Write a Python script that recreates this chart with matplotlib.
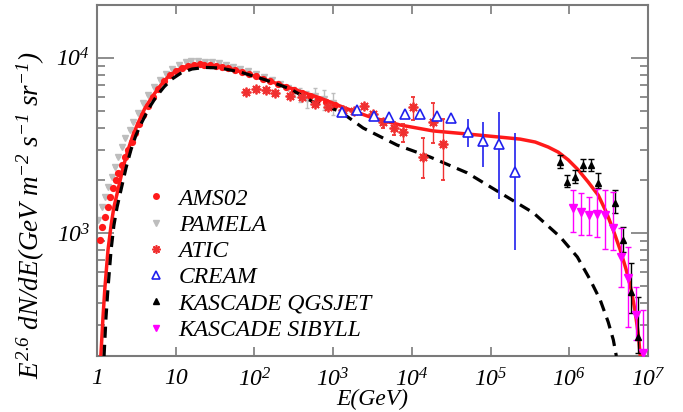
import numpy as np
import matplotlib
matplotlib.use("Agg")
import matplotlib.pyplot as plt
from matplotlib.lines import Line2D
from matplotlib.ticker import FixedLocator, FuncFormatter, NullFormatter

plt.rcParams['font.family'] = ['Liberation Serif', 'DejaVu Serif']
plt.rcParams['font.style'] = 'italic'
plt.rcParams['mathtext.fontset'] = 'custom'
plt.rcParams['mathtext.rm'] = 'Liberation Serif:italic'
plt.rcParams['mathtext.it'] = 'Liberation Serif:italic'

# ---- data ----
ams_E = [1.09, 1.16, 1.26, 1.38, 1.46, 1.60, 1.74, 1.85, 2.08, 2.27, 2.48, 2.78, 3.04, 3.42,
         3.84, 4.45, 5.15, 5.96, 7.10, 8.47, 10.1, 12.0, 14.3, 17.1, 20.4, 22.9,
         27.3, 32.5, 38.7, 46.2, 56.6, 69.5, 85.3, 105, 128, 158, 200, 252, 318, 403, 508,
         643, 813, 1060]
ams_F = [916, 1090, 1240, 1410, 1610, 1810, 2010, 2210, 2450, 2720, 2990, 3310, 3730, 4200,
         4720, 5310, 5980, 6640, 7380, 7980, 8410, 8750, 8980, 9100, 9160, 9100,
         9040, 8980, 8870, 8750, 8520, 8300, 8090, 7870, 7570, 7380, 7090, 6820, 6560, 6300,
         6060, 5820, 5600, 5380]

pam_E = [1.03, 1.16, 1.26, 1.38, 1.55, 1.69, 1.85, 2.08, 2.27, 2.63, 2.87, 3.32, 3.84, 4.45,
         5.30, 6.32, 7.53, 8.98, 11.0, 13.5, 15.6, 19.2, 23.6, 28.9, 35.5, 43.5, 53.5,
         65.6, 82.9, 105, 132, 167, 211, 267, 318, 380, 466, 589, 766, 997]
pam_F = [1190, 1410, 1610, 1840, 2090, 2390, 2720, 3100, 3490, 3880, 4310, 4840, 5520, 6140,
         6820, 7470, 8090, 8630, 9100, 9460, 9530, 9530, 9470, 9400, 9280, 9100, 8870,
         8630, 8410, 8090, 7780, 7470, 7090, 6730, 6380, 6140, 5820, 6060, 5820, 5520]
pam_err = [0] * 34 + [400, 550, 650, 700, 750, 800]

atic_E = [78, 105, 140, 183, 284, 403, 589, 861, 1340, 1850, 2470, 3210, 4310, 5940, 7730,
          10300, 13900, 18600, 24900]
atic_F = [6380, 6680, 6560, 6300, 6060, 5980, 5450, 5240, 5040, 4980, 5310, 4780, 4310, 3980,
          3780, 5240, 2720, 4310, 3230]
atic_lo = [6380, 6680, 6560, 6300, 6060, 5980, 5450, 5240, 5040, 4980, 5310, 4780, 3980, 3630,
           3310, 4420, 2070, 3270, 2010]
atic_hi = [6380, 6680, 6560, 6300, 6060, 5980, 5450, 5240, 5040, 4980, 5310, 4780, 4480, 4310,
           4200, 5980, 3490, 5520, 4480]

cream_E = [1300, 2010, 3310, 5130, 8200, 12700, 20900, 31500, 51800, 80300, 128000, 205000]
cream_F = [4910, 5040, 4660, 4600, 4780, 4780, 4660, 4540, 3780, 3360, 3230, 2230]
cream_lo = [4910, 5040, 4660, 4600, 4780, 4780, 4660, 4540, 3100, 2390, 1570, 803]
cream_hi = [4910, 5040, 4660, 4600, 4780, 4780, 4660, 4540, 4480, 4310, 4910, 3730]

qgs_E = [7.64e5, 9.38e5, 1.19e6, 1.50e6, 1.89e6, 2.32e6, 3.82e6, 4.83e6, 6.10e6, 7.48e6]
qgs_F = [2550, 1960, 2090, 2450, 2450, 1940, 1490, 916, 463, 257]
qgs_lo = [2360, 1840, 1940, 2260, 2260, 1810, 1310, 782, 352, 208]
qgs_hi = [2790, 2150, 2300, 2650, 2650, 2210, 1770, 1090, 678, 434]

sib_E = [1.12e6, 1.41e6, 1.79e6, 2.26e6, 2.85e6, 3.61e6, 4.55e6, 5.58e6, 7.06e6, 8.67e6]
sib_F = [1390, 1320, 1270, 1290, 1270, 1070, 733, 556, 342, 208]
sib_lo = [1020, 977, 977, 953, 815, 803, 494, 292, 247, 190]
sib_hi = [1770, 1700, 1610, 1790, 1770, 1720, 1070, 835, 494, 366]

# model curves
fit_E = [1.12, 1.19, 1.26, 1.38, 1.51, 1.64, 1.85, 2.14, 2.48, 2.87, 3.32, 4.07, 5.00, 6.32,
         7.98, 10.1, 13.1, 17.6, 25.0, 36.6, 56.6, 108, 283, 682, 1420, 2940, 7080, 18600,
         50300, 132000, 237000, 368000, 538000, 721000, 966000, 1.29e6, 1.73e6, 2.32e6,
         2.94e6, 3.61e6, 4.42e6, 5.27e6, 6.10e6, 6.85e6, 7.48e6, 7.94e6]
fit_F = [200, 329, 488, 803, 1110, 1410, 1770, 2360, 2990, 3630, 4250, 5170, 5980, 6900,
         7780, 8410, 8870, 9100, 9040, 8920, 8520, 7780, 6730, 5900, 5170, 4600, 4140, 3830,
         3680, 3530, 3440, 3310, 3100, 2900, 2620, 2300, 1960, 1650,
         1320, 1040, 803, 618, 475, 356, 267, 200]

bkg_E = [1.23, 1.30, 1.38, 1.51, 1.64, 1.80, 2.02, 2.34, 2.70, 3.13, 3.73, 4.58, 5.62, 7.10,
         8.98, 11.7, 16.1, 23.6, 36.6, 65.6, 136, 283, 556, 1220, 2400, 6490, 17000, 50300,
         132000, 347000, 764000, 1.26e6, 1.84e6, 2.46e6, 3.11e6, 3.61e6, 3.94e6]
bkg_F = [200, 329, 488, 803, 1110, 1410, 1770, 2360, 2990, 3630, 4310, 5170, 5980, 6820,
         7570, 8190, 8630, 8810, 8750, 8300, 7500, 6650, 5600, 4950, 3980, 3180, 2720, 2210,
         1700, 1310, 953, 733, 542, 417, 312, 247, 200]

xticks = [1, 10, 1e2, 1e3, 1e4, 1e5, 1e6, 1e7]
yticks = [1e3, 1e4]


def err(f, lo, hi):
    f, lo, hi = np.array(f), np.array(lo), np.array(hi)
    return [f - lo, hi - f]


fig = plt.figure(figsize=(6.83, 4.12), dpi=100)
ax = fig.add_axes([0.142, 0.136, 0.807, 0.852])

red = '#ff1a1a'
ax.errorbar(pam_E, pam_F, yerr=pam_err, fmt='v', color='#bdbdbd', ms=5, mec='#bdbdbd',
            elinewidth=1.0, capsize=1.5, zorder=2)
ax.plot(ams_E, ams_F, 'o', color=red, ms=5.2, mec='none', zorder=3)
ax.plot(fit_E, fit_F, '-', color=red, lw=2.5, zorder=4)
ax.plot(bkg_E, bkg_F, '--', color='black', lw=2.3, dashes=(3.5, 2.2), zorder=5)
ax.errorbar(atic_E, atic_F, yerr=err(atic_F, atic_lo, atic_hi), fmt='', marker=(8, 2, 0),
            ls='none', color='#f03030', ms=7, mew=1.3, elinewidth=1.0, capsize=1.5, zorder=6)
ax.errorbar(cream_E, cream_F, yerr=err(cream_F, cream_lo, cream_hi), fmt='^', color='#2020ee',
            mfc='white', ms=7, mew=1.2, elinewidth=1.2, capsize=0, zorder=6)
ax.errorbar(qgs_E, qgs_F, yerr=err(qgs_F, qgs_lo, qgs_hi), fmt='^', color='black', ms=5,
            elinewidth=1.0, capsize=2, zorder=6)
ax.errorbar(sib_E, sib_F, yerr=err(sib_F, sib_lo, sib_hi), fmt='v', color='#ff00ff', ms=6,
            elinewidth=1.0, capsize=2, zorder=6)

ax.set_xscale('log')
ax.set_yscale('log')
ax.set_xlim(1, 1e7)
ax.set_ylim(200, 2e4)


def xfmt(v, pos):
    n = int(round(np.log10(v)))
    if n == 0:
        return '1'
    if n == 1:
        return '10'
    return r'$10^{%d}$' % n


ax.xaxis.set_major_locator(FixedLocator(xticks))
ax.xaxis.set_major_formatter(FuncFormatter(xfmt))
ax.yaxis.set_major_locator(FixedLocator(yticks))
ax.yaxis.set_major_formatter(FuncFormatter(lambda v, p: r'$10^{%d}$' % round(np.log10(v))))
ax.xaxis.set_minor_formatter(NullFormatter())
ax.yaxis.set_minor_formatter(NullFormatter())

gray = '#7a7a7a'
for s in ax.spines.values():
    s.set_color(gray)
    s.set_linewidth(1.5)
ax.tick_params(which='both', direction='in', top=True, right=True, color=gray, width=1.2,
               labelsize=17)
ax.tick_params(axis='x', which='major', length=6.5, pad=9)
ax.tick_params(axis='x', which='minor', length=3.3)
ax.tick_params(axis='y', which='major', length=12, pad=5)
ax.tick_params(axis='y', which='minor', length=6)

ax.set_xlabel('E(GeV)', fontsize=17, labelpad=-2)
ax.set_ylabel(r'$E^{2.6}$ dN/dE(GeV m$^{-2}$ s$^{-1}$ sr$^{-1}$)', fontsize=19.5)
ax.yaxis.set_label_coords(-0.09, 0.40)

handles = [
    Line2D([], [], ls='none', marker='o', color=red, mec='none', ms=5),
    Line2D([], [], ls='none', marker='v', color='#bdbdbd', ms=5),
    Line2D([], [], ls='none', marker=(8, 2, 0), color='#f03030', ms=6, mew=1.2),
    Line2D([], [], ls='none', marker='^', color='#2020ee', mfc='white', ms=6, mew=1.2),
    Line2D([], [], ls='none', marker='^', color='black', ms=5),
    Line2D([], [], ls='none', marker='v', color='#ff00ff', ms=5),
]
labels = ['AMS02', 'PAMELA', 'ATIC', 'CREAM', 'KASCADE QGSJET', 'KASCADE SIBYLL']
ax.legend(handles, labels, loc='upper left', bbox_to_anchor=(0.069, 0.505), frameon=False,
          fontsize=17, handlelength=1.0, handletextpad=0.45, labelspacing=0.2,
          borderaxespad=0)

fig.savefig('out.png', dpi=100)
